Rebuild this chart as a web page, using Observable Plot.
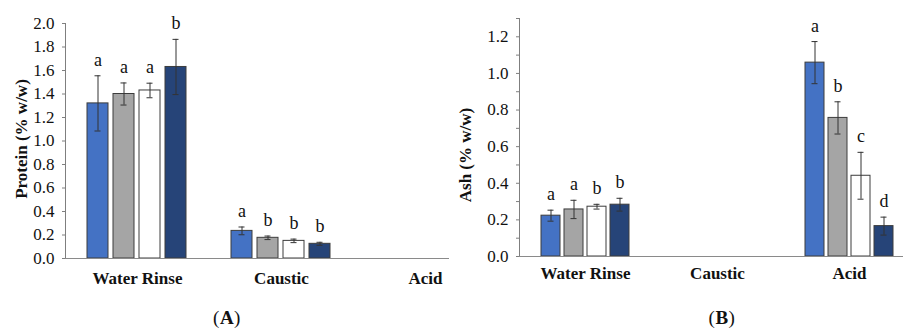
<!DOCTYPE html>
<html>
<head>
<meta charset="utf-8">
<script src="https://cdn.jsdelivr.net/npm/d3@7"></script>
<script src="https://cdn.jsdelivr.net/npm/@observablehq/plot@0.6"></script>
<style>
  html, body { margin: 0; padding: 0; background: #fff; }
  #wrap { position: relative; width: 903px; height: 329px; overflow: hidden; font-family: "Liberation Serif", serif; color: #111; }
  .panel { position: absolute; top: 0; height: 305px; overflow: hidden; }
  .panel svg { font-family: "Liberation Serif", serif; }
  .panel [aria-label^="y-axis"] text { fill: #111; font-size: 17px; }
  .panel [aria-label^="fx-axis"] text { fill: #111; font-size: 17px; font-weight: bold; }
  .ylab { position: absolute; font-weight: bold; font-size: 17px; white-space: nowrap; transform: translate(-50%, -50%) rotate(-90deg); }
  .cap { position: absolute; top: 307px; font-size: 19px; letter-spacing: 0.5px; transform: translateX(-50%); white-space: nowrap; }
</style>
</head>
<body>
<div id="wrap">
  <div class="panel" id="pA" style="left:0; width:449px;"></div>
  <div class="panel" id="pB" style="left:450px; width:453px;"></div>
  <div class="ylab" style="left:22px; top:139px;">Protein (% w/w)</div>
  <div class="ylab" style="left:466px; top:155px;">Ash (% w/w)</div>
  <div class="cap" style="left:227px;">(<b>A</b>)</div>
  <div class="cap" style="left:722px;">(<b>B</b>)</div>
</div>
<script>
// ---- data ----
const groups = ["Water Rinse", "Caustic", "Acid"];
const series = ["T1", "T2", "T3", "T4"];
const seriesColors = ["#4472C4", "#A5A5A5", "#FFFFFF", "#264478"];

// Panel A: Protein (% w/w)
const proteinMean = {
  "Water Rinse": [1.32, 1.40, 1.43, 1.63],
  "Caustic": [0.235, 0.176, 0.15, 0.125],
  "Acid": [null, null, null, null]
};
const proteinErr = {
  "Water Rinse": [0.235, 0.094, 0.062, 0.235],
  "Caustic": [0.033, 0.015, 0.015, 0.013],
  "Acid": [null, null, null, null]
};
const proteinLetters = {
  "Water Rinse": ["a", "a", "a", "b"],
  "Caustic": ["a", "b", "b", "b"],
  "Acid": [null, null, null, null]
};
const proteinTicks = [0, 0.2, 0.4, 0.6, 0.8, 1.0, 1.2, 1.4, 1.6, 1.8, 2.0];

// Panel B: Ash (% w/w)
const ashMean = {
  "Water Rinse": [0.223, 0.257, 0.272, 0.283],
  "Caustic": [null, null, null, null],
  "Acid": [1.059, 0.757, 0.441, 0.166]
};
const ashErr = {
  "Water Rinse": [0.03, 0.05, 0.013, 0.035],
  "Caustic": [null, null, null, null],
  "Acid": [0.115, 0.088, 0.128, 0.049]
};
const ashLetters = {
  "Water Rinse": ["a", "a", "b", "b"],
  "Caustic": [null, null, null, null],
  "Acid": ["a", "b", "c", "d"]
};
const ashTicks = [0, 0.1, 0.2, 0.3, 0.4, 0.5, 0.6, 0.7, 0.8, 0.9, 1.0, 1.1, 1.2, 1.3];

function buildRows(mean, err, letters) {
  const rows = [];
  for (const g of groups) {
    series.forEach((s, i) => {
      rows.push({group: g, series: s, mean: mean[g][i], err: err[g][i], letter: letters[g][i]});
    });
  }
  return rows;
}

function chart({rows, width, marginLeft, marginTop, marginBottom, yDomain, ticks, tickFormat, fxRange, fxPad, capInset}) {
  const has = d => d.mean != null;
  return Plot.plot({
    width, height: 305,
    marginLeft, marginRight: 0, marginTop, marginBottom,
    facet: {data: rows, x: "group", marginTop: 0, marginBottom: 0, marginLeft: 0, marginRight: 0},
    fx: {domain: groups, range: fxRange, padding: 0, axis: "bottom", tickSize: 0, tickPadding: fxPad, label: null},
    x: {domain: series, axis: null, paddingInner: 0.19, paddingOuter: 0.86},
    y: {domain: yDomain, ticks, tickFormat, tickSize: 3, tickPadding: 8, line: true, label: null},
    color: {domain: series, range: seriesColors},
    style: {color: "#7f7f7f", background: "transparent", fontFamily: "'Liberation Serif', serif", fontSize: "17px"},
    marks: [
      Plot.barY(rows, {filter: has, x: "series", y: "mean", fill: "series", stroke: "#3c3c3c", strokeWidth: 1}),
      Plot.ruleX(rows, {filter: has, x: "series", y1: d => d.mean - d.err, y2: d => d.mean + d.err, stroke: "#333", strokeWidth: 1}),
      Plot.tickY(rows, {filter: has, x: "series", y: d => d.mean + d.err, stroke: "#333", insetLeft: capInset, insetRight: capInset}),
      Plot.tickY(rows, {filter: has, x: "series", y: d => d.mean - d.err, stroke: "#333", insetLeft: capInset, insetRight: capInset}),
      Plot.text(rows, {filter: has, x: "series", y: d => d.mean + d.err, text: "letter", lineAnchor: "bottom", dy: -10, fill: "#111", fontSize: 18}),
      Plot.ruleY([0], {stroke: "#8a8a8a", strokeWidth: 1.2})
    ]
  });
}

const rowsA = buildRows(proteinMean, proteinErr, proteinLetters);
const rowsB = buildRows(ashMean, ashErr, ashLetters);

const A = chart({
  rows: rowsA, width: 449, marginLeft: 64, marginTop: 23, marginBottom: 47,
  yDomain: [0, 2.0], ticks: proteinTicks, tickFormat: d => d.toFixed(1),
  fxRange: [64.5, 64.5 + 144 * 3], fxPad: 13, capInset: 7.5
});
const B = chart({
  rows: rowsB, width: 453, marginLeft: 68, marginTop: 18, marginBottom: 49,
  yDomain: [0, 1.3], ticks: ashTicks, tickFormat: d => (Math.round(d * 10) % 2 === 0 ? d.toFixed(1) : ""),
  fxRange: [68.5, 68.5 + 132.5 * 3], fxPad: 10, capInset: 6.5
});
document.getElementById("pA").appendChild(A);
document.getElementById("pB").appendChild(B);
</script>
</body>
</html>
